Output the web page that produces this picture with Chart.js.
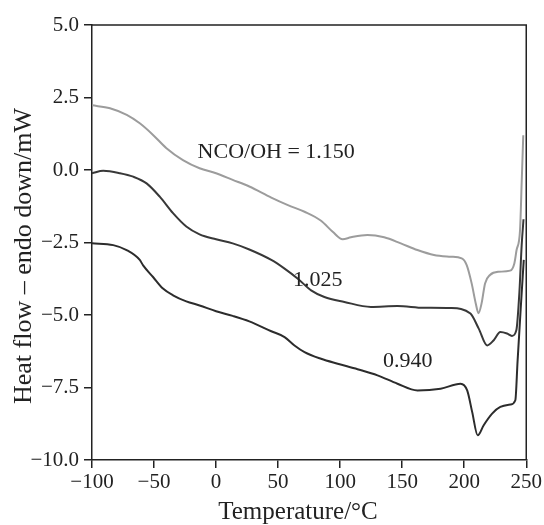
<!DOCTYPE html>
<html>
<head>
<meta charset="utf-8">
<script src="https://cdn.jsdelivr.net/npm/chart.js@4/dist/chart.umd.min.js"></script>
<style>
  html, body { margin: 0; padding: 0; background: #fff; }
  #wrap { width: 544px; height: 525px; }
</style>
</head>
<body>
<div id="wrap"><canvas id="dsc_chart" width="544" height="525"></canvas></div>
<script>
// DSC curves: temperature (°C) vs heat flow (mW)
const temp1150 = [-100, -85.5, -72, -61.5, -50.8, -40, -26.7, -13.3, 0, 13.4, 26.8, 44.5, 57.9, 71.3, 84.6, 94, 102, 108.7, 122, 135.5, 148.9, 162.3, 175.6, 189, 198, 202, 206, 209.3, 211.5, 214, 216.8, 220.8, 227.5, 237, 240.4, 242.2, 245, 246.3, 247.6]
const heat1150 = [2.23, 2.13, 1.9, 1.61, 1.21, 0.75, 0.34, 0.06, -0.11, -0.34, -0.57, -0.95, -1.21, -1.44, -1.75, -2.13, -2.39, -2.32, -2.24, -2.32, -2.53, -2.76, -2.93, -2.99, -3.05, -3.28, -3.91, -4.6, -4.94, -4.6, -3.91, -3.62, -3.51, -3.47, -3.22, -2.76, -2.07, -0.46, 1.2]

const temp1025 = [-100, -90.9, -77.5, -66.8, -56, -45.4, -34.7, -24, -13.3, 0, 13.4, 26.8, 44.5, 55.2, 65.9, 76.6, 87.3, 103.4, 124.8, 146.2, 167.6, 189, 205, 211.7, 218.5, 223.8, 229.1, 234.5, 238.5, 242, 244.5, 246.3, 247.8]
const heat1025 = [-0.11, -0.03, -0.11, -0.23, -0.46, -0.92, -1.49, -1.95, -2.22, -2.39, -2.53, -2.74, -3.1, -3.4, -3.75, -4.15, -4.38, -4.55, -4.72, -4.69, -4.75, -4.76, -4.95, -5.47, -6.05, -5.87, -5.59, -5.64, -5.72, -5.53, -4.2, -2.6, -1.7]

const temp0940 = [-100, -82.9, -72.1, -61.5, -58.8, -50.8, -42.8, -34.7, -24, -13.3, 0, 13.4, 26.8, 44.5, 55.2, 63.2, 71.3, 84.6, 98, 114, 130.1, 146.2, 162.3, 181, 197, 202.4, 206.4, 210.9, 215.7, 222.5, 229.1, 237.2, 241.2, 243, 245.5, 248]
const heat0940 = [-2.53, -2.59, -2.76, -3.1, -3.29, -3.69, -4.09, -4.32, -4.53, -4.67, -4.87, -5.03, -5.22, -5.56, -5.76, -6.05, -6.28, -6.51, -6.68, -6.87, -7.08, -7.37, -7.6, -7.54, -7.37, -7.6, -8.34, -9.15, -8.8, -8.4, -8.17, -8.09, -7.94, -6.6, -4.8, -3.1]

// axis ticks
const xTicks = [-100, -50, 0, 50, 100, 150, 200, 250]
const yTicks = [-10, -7.5, -5, -2.5, 0, 2.5, 5]

// curve labels: text, temperature, heat flow
const labelTexts = ['NCO/OH = 1.150', '1.025', '0.940']
const labelTemps = [48.5, 82, 154.5]
const labelHeats = [0.62, -3.8, -6.6]

const xTitle = 'Temperature/°C'
const yTitle = 'Heat flow \u2013 endo down/mW'

const serif = '"Liberation Serif", "Times New Roman", serif'
const ink = '#222'

const toPoints = (xs, ys) => xs.map((x, i) => ({ x: x, y: ys[i] }))
const minusSign = s => String(s).replace('-', '\u2212')

// top and right edges of the frame, axis titles and the curve labels
const framePlugin = {
    id: 'frameAndLabels',
    afterDraw(chart) {
        const { ctx, chartArea } = chart
        const xs = chart.scales.x
        const ys = chart.scales.y
        ctx.save()
        ctx.strokeStyle = ink
        ctx.lineWidth = 1.5
        ctx.beginPath()
        ctx.moveTo(chartArea.left, chartArea.top)
        ctx.lineTo(chartArea.right, chartArea.top)
        ctx.lineTo(chartArea.right, chartArea.bottom)
        ctx.stroke()

        ctx.fillStyle = ink
        ctx.textAlign = 'center'
        ctx.textBaseline = 'middle'

        ctx.font = '22px ' + serif
        labelTexts.forEach((text, i) => {
            ctx.fillText(text, xs.getPixelForValue(labelTemps[i]), ys.getPixelForValue(labelHeats[i]))
        })

        ctx.font = '25px ' + serif
        ctx.fillText(xTitle, chartArea.left + 206, chart.height - 13)

        ctx.save()
        ctx.translate(24, chartArea.top + 231)
        ctx.rotate(-Math.PI / 2)
        ctx.font = '26px ' + serif
        ctx.fillText(yTitle, 0, 0)
        ctx.restore()

        ctx.restore()
    }
}

const lineStyle = color => ({
    borderColor: color,
    borderWidth: 2,
    pointRadius: 0,
    fill: false,
    cubicInterpolationMode: 'monotone',
    tension: 0.4
})

const config = {
    type: 'line',
    data: {
        datasets: [
            { label: '1.150', data: toPoints(temp1150, heat1150), ...lineStyle('#9c9c9c') },
            { label: '1.025', data: toPoints(temp1025, heat1025), ...lineStyle('#383838') },
            { label: '0.940', data: toPoints(temp0940, heat0940), ...lineStyle('#2c2c2c') }
        ]
    },
    options: {
        responsive: false,
        animation: false,
        layout: { padding: { top: 25, right: 16, left: 0, bottom: 0 } },
        plugins: {
            legend: { display: false },
            tooltip: { enabled: false }
        },
        scales: {
            x: {
                type: 'linear',
                min: -100,
                max: 250,
                afterFit: scale => { scale.height = 65 },
                afterBuildTicks: scale => { scale.ticks = xTicks.map(v => ({ value: v })) },
                grid: { drawOnChartArea: false, drawTicks: true, tickLength: 8, color: ink, lineWidth: 1.5 },
                border: { display: true, color: ink, width: 1.5 },
                ticks: {
                    color: ink,
                    padding: 2,
                    maxRotation: 0,
                    font: { family: serif, size: 21 },
                    callback: v => minusSign(v)
                }
            },
            y: {
                type: 'linear',
                min: -10,
                max: 5,
                afterFit: scale => { scale.width = 92 },
                afterBuildTicks: scale => { scale.ticks = yTicks.map(v => ({ value: v })) },
                grid: { drawOnChartArea: false, drawTicks: true, tickLength: 8, color: ink, lineWidth: 1.5 },
                border: { display: true, color: ink, width: 1.5 },
                ticks: {
                    color: ink,
                    padding: 5,
                    font: { family: serif, size: 21 },
                    callback: v => minusSign(Number(v).toFixed(1))
                }
            }
        }
    },
    plugins: [framePlugin]
}

const chart = new Chart(document.getElementById('dsc_chart').getContext('2d'), config)
</script>
</body>
</html>
